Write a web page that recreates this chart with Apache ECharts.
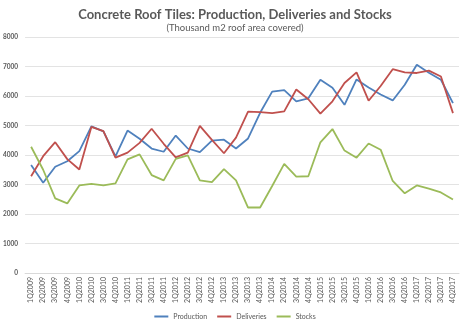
<!DOCTYPE html>
<html>
<head>
<meta charset="utf-8">
<script src="https://cdn.jsdelivr.net/npm/echarts@6/dist/echarts.min.js"></script>
<style>html,body{margin:0;padding:0;background:#fff}#c{width:470px;height:328px}</style>
</head>
<body>
<div id="c"></div>
<script>
var categories = ['1Q2009','2Q2009','3Q2009','4Q2009','1Q2010','2Q2010','3Q2010','4Q2010','1Q2011','2Q2011','3Q2011','4Q2011','1Q2012','2Q2012','3Q2012','4Q2012','1Q2013','2Q2013','3Q2013','4Q2013','1Q2014','2Q2014','3Q2014','4Q2014','1Q2015','2Q2015','3Q2015','4Q2015','1Q2016','2Q2016','3Q2016','4Q2016','1Q2017','2Q2017','3Q2017','4Q2017'];
var production = [3660,3060,3600,3790,4130,4970,4800,3950,4830,4550,4220,4110,4660,4220,4100,4490,4520,4220,4560,5430,6150,6200,5820,5920,6550,6280,5700,6560,6290,6050,5850,6380,7060,6790,6550,5760];
var deliveries = [3280,3960,4435,3860,3510,4950,4810,3910,4080,4410,4890,4380,3920,4080,4990,4510,4060,4590,5470,5450,5420,5480,6220,5890,5400,5820,6440,6800,5840,6340,6910,6800,6780,6860,6660,5420];
var stocks = [4280,3500,2530,2360,2970,3020,2970,3040,3850,4020,3320,3140,3870,3990,3140,3080,3520,3140,2220,2220,2950,3700,3270,3280,4430,4880,4150,3910,4390,4180,3120,2700,2970,2860,2730,2490];

var chart = echarts.init(document.getElementById('c'));
var fam = 'Lato, "Open Sans", sans-serif';
chart.setOption({
  animation: false,
  backgroundColor: '#fff',
  title: {
    text: 'Concrete Roof Tiles: Production, Deliveries and Stocks',
    subtext: '(Thousand m2 roof area covered)',
    left: 'center', top: 3, itemGap: 2,
    textStyle: {fontFamily: fam, fontSize: 13, fontWeight: 'bold', color: '#595959'},
    subtextStyle: {fontFamily: fam, fontSize: 9.5, color: '#595959'}
  },
  legend: {
    bottom: 3, left: 'center', itemWidth: 14, itemHeight: 2, itemGap: 10,
    icon: 'rect',
    textStyle: {fontFamily: fam, fontSize: 7, color: '#595959'},
    data: ['Production','Deliveries','Stocks']
  },
  grid: {left: 22, right: 11, top: 37, bottom: 55},
  xAxis: {
    type: 'category', data: categories, boundaryGap: true,
    axisLine: {lineStyle: {color: '#d9d9d9'}},
    axisTick: {show: false},
    axisLabel: {rotate: 90, interval: 0, fontSize: 7, color: '#595959', fontFamily: fam, margin: 4}
  },
  yAxis: {
    type: 'value', min: 0, max: 8000, interval: 1000,
    axisLine: {show: false}, axisTick: {show: false},
    axisLabel: {fontSize: 6.5, color: '#595959', fontFamily: fam, fontWeight: 'bold', margin: 7,
      formatter: function (v) { return String(v); }},
    splitLine: {lineStyle: {color: '#e3e3e3'}}
  },
  series: [
    {name: 'Production', type: 'line', data: production, symbol: 'none', color: '#4F81BD', lineStyle: {width: 1.8}},
    {name: 'Deliveries', type: 'line', data: deliveries, symbol: 'none', color: '#C0504D', lineStyle: {width: 1.8}},
    {name: 'Stocks', type: 'line', data: stocks, symbol: 'none', color: '#9BBB59', lineStyle: {width: 1.8}}
  ]
});
</script>
</body>
</html>
